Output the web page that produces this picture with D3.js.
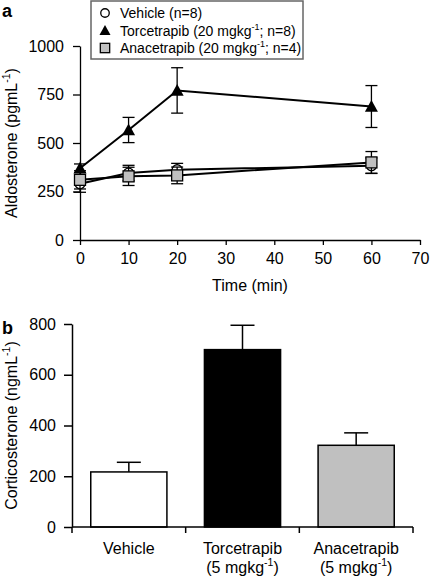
<!DOCTYPE html>
<html><head><meta charset="utf-8">
<script src="https://cdn.jsdelivr.net/npm/d3@7"></script>
<style>
body{margin:0;background:#fff;}
svg{display:block;font-family:"Liberation Sans",Arial,sans-serif;}
</style></head>
<body>
<svg id="c" width="430" height="578"></svg>
<script>
// ---- Panel a data ----
const times = [0, 10, 20, 60];
const vehicleMean = [290, 345, 362, 383];
const vehicleErr  = [44, 40, 33, 40];
const torcMean = [370, 567, 771, 688];
const torcErr  = [22, 65, 117, 108];
const anaMean = [310, 328, 333, 400];
const anaErr  = [47, 47, 43, 56];
const xTicksA = [0, 10, 20, 30, 40, 50, 60, 70];
const yTicksA = [0, 250, 500, 750, 1000];
const legendLabels = ["Vehicle (n=8)", "Torcetrapib (20 mgkg", "Anacetrapib (20 mgkg"];
const legendTails = ["", "; n=8)", "; n=4)"];

// ---- Panel b data ----
const groups = ["Vehicle", "Torcetrapib", "Anacetrapib"];
const groupLine2 = ["", "(5 mgkg", "(5 mgkg"];
const cortMean = [217, 699, 322];
const cortErr  = [38, 96, 49];
const yTicksB = [0, 200, 400, 600, 800];
const barFills = ["#ffffff", "#000000", "#c0c0c0"];

const svg = d3.select("#c");
const fs = 16;
const FF = "'Liberation Sans', Arial, sans-serif";

function styleAxis(g, sw) {
  g.select(".domain").attr("stroke-width", sw);
  g.selectAll("line").attr("stroke-width", sw);
  g.selectAll("text").attr("font-size", fs).attr("fill", "#000").attr("font-family", FF);
}

// ===== Panel a =====
const xA = d3.scaleLinear().domain([0, 70]).range([80, 420]);
const yA = d3.scaleLinear().domain([0, 1000]).range([240, 46]);

const gA = svg.append("g");
gA.append("g").attr("transform", "translate(0,240)")
  .call(d3.axisBottom(xA).tickValues(xTicksA).tickFormat(d3.format("d")).tickSize(5).tickPadding(8).tickSizeOuter(0))
  .call(g => styleAxis(g, 1.3));
gA.append("g").attr("transform", "translate(80,0)")
  .call(d3.axisLeft(yA).tickValues(yTicksA).tickFormat(d3.format("d")).tickSize(7).tickPadding(9).tickSizeOuter(0))
  .call(g => styleAxis(g, 1.3));

// axis titles
gA.append("text").attr("x", xA(35)).attr("y", 291).attr("text-anchor", "middle").attr("font-size", fs).text("Time (min)");
const ytA = gA.append("text").attr("transform", `translate(17,${(yA(0)+yA(1000))/2}) rotate(-90)`).attr("text-anchor", "middle").attr("font-size", fs);
ytA.append("tspan").text("Aldosterone (pgmL");
ytA.append("tspan").attr("font-size", 10.5).attr("dy", -7).text("-1");
ytA.append("tspan").attr("dy", 7).text(")");

gA.append("text").attr("x", 2).attr("y", 17).attr("font-size", 18).attr("font-weight", "bold").text("a");

const series = [
  {mean: vehicleMean, err: vehicleErr, shape: "circle"},
  {mean: anaMean, err: anaErr, shape: "square"},
  {mean: torcMean, err: torcErr, shape: "triangle"}
];
const line = d3.line().x((d, i) => xA(times[i])).y(d => yA(d));
const capW = 6;

function drawMarker(g, shape, cx, cy, scale) {
  const s = scale || 1;
  if (shape === "circle") {
    g.append("circle").attr("cx", cx).attr("cy", cy).attr("r", 5 * s).attr("fill", "#fff").attr("stroke", "#000").attr("stroke-width", 1.3);
  } else if (shape === "square") {
    const h = 5.5 * s;
    g.append("rect").attr("x", cx - h).attr("y", cy - h).attr("width", 2 * h).attr("height", 2 * h).attr("fill", "#c0c0c0").attr("stroke", "#000").attr("stroke-width", 1.3);
  } else {
    const h = 6.5 * s;
    g.append("path").attr("d", `M${cx},${cy - h}L${cx + h},${cy + h * 0.8}L${cx - h},${cy + h * 0.8}Z`).attr("fill", "#000");
  }
}

series.forEach(s => {
  const g = gA.append("g");
  s.mean.forEach((m, i) => {
    const x = xA(times[i]);
    g.append("line").attr("x1", x).attr("x2", x).attr("y1", yA(m - s.err[i])).attr("y2", yA(m + s.err[i])).attr("stroke", "#000").attr("stroke-width", 1.3);
    [m - s.err[i], m + s.err[i]].forEach(v => g.append("line").attr("x1", x - capW).attr("x2", x + capW).attr("y1", yA(v)).attr("y2", yA(v)).attr("stroke", "#000").attr("stroke-width", 1.3));
  });
  g.append("path").datum(s.mean).attr("d", line).attr("fill", "none").attr("stroke", "#000").attr("stroke-width", 2);
  s.mean.forEach((m, i) => drawMarker(g, s.shape, xA(times[i]), yA(m)));
});

// legend
const leg = gA.append("g");
leg.append("rect").attr("x", 91).attr("y", 1).attr("width", 212).attr("height", 58).attr("fill", "#fff").attr("stroke", "#666").attr("stroke-width", 1.5);
const legShapes = ["circle", "triangle", "square"];
const legY = [13, 30.5, 48];
legShapes.forEach((sh, i) => {
  drawMarker(leg, sh, 105, legY[i], 0.85);
  const t = leg.append("text").attr("x", 120).attr("y", legY[i] + 5).attr("font-size", 14);
  t.append("tspan").text(legendLabels[i]);
  if (legendTails[i]) {
    t.append("tspan").attr("font-size", 9).attr("dy", -6).text("-1");
    t.append("tspan").attr("dy", 6).text(legendTails[i]);
  }
});

// ===== Panel b =====
const xB = d3.scaleBand().domain(groups).range([72, 413]).paddingInner(0.33).paddingOuter(0.165);
const yB = d3.scaleLinear().domain([0, 800]).range([527, 324]);
const gB = svg.append("g");

groups.forEach((gname, i) => {
  const x = xB(gname), w = xB.bandwidth(), cx = x + w / 2;
  gB.append("line").attr("x1", cx).attr("x2", cx).attr("y1", yB(cortMean[i])).attr("y2", yB(cortMean[i] + cortErr[i])).attr("stroke", "#000").attr("stroke-width", 1.5);
  gB.append("line").attr("x1", cx - 12).attr("x2", cx + 12).attr("y1", yB(cortMean[i] + cortErr[i])).attr("y2", yB(cortMean[i] + cortErr[i])).attr("stroke", "#000").attr("stroke-width", 1.5);
  gB.append("rect").attr("x", x).attr("y", yB(cortMean[i])).attr("width", w).attr("height", yB(0) - yB(cortMean[i]))
    .attr("fill", barFills[i]).attr("stroke", "#000").attr("stroke-width", 1.5);
});

gB.append("g").attr("transform", "translate(72,0)")
  .call(d3.axisLeft(yB).tickValues(yTicksB).tickFormat(d3.format("d")).tickSize(8).tickPadding(8).tickSizeOuter(0))
  .call(g => styleAxis(g, 1.5));

const boundaries = [0, 1, 2, 3].map(i => 72 + i * (413 - 72) / 3);
gB.append("line").attr("x1", 72).attr("x2", 413).attr("y1", 527).attr("y2", 527).attr("stroke", "#000").attr("stroke-width", 1.5);
boundaries.forEach(b => gB.append("line").attr("x1", b).attr("x2", b).attr("y1", 527).attr("y2", 533).attr("stroke", "#000").attr("stroke-width", 1.5));

groups.forEach((gname, i) => {
  const cx = xB(gname) + xB.bandwidth() / 2;
  gB.append("text").attr("x", cx).attr("y", 554).attr("text-anchor", "middle").attr("font-size", fs).text(gname);
  if (groupLine2[i]) {
    const t = gB.append("text").attr("x", cx).attr("y", 573).attr("text-anchor", "middle").attr("font-size", fs);
    t.append("tspan").text(groupLine2[i]);
    t.append("tspan").attr("font-size", 10.5).attr("dy", -7).text("-1");
    t.append("tspan").attr("dy", 7).text(")");
  }
});

const ytB = gB.append("text").attr("transform", `translate(17,${(yB(0)+yB(800))/2}) rotate(-90)`).attr("text-anchor", "middle").attr("font-size", fs);
ytB.append("tspan").text("Corticosterone (ngmL");
ytB.append("tspan").attr("font-size", 10.5).attr("dy", -7).text("-1");
ytB.append("tspan").attr("dy", 7).text(")");

gB.append("text").attr("x", 2).attr("y", 334).attr("font-size", 18).attr("font-weight", "bold").text("b");
</script>
</body></html>
